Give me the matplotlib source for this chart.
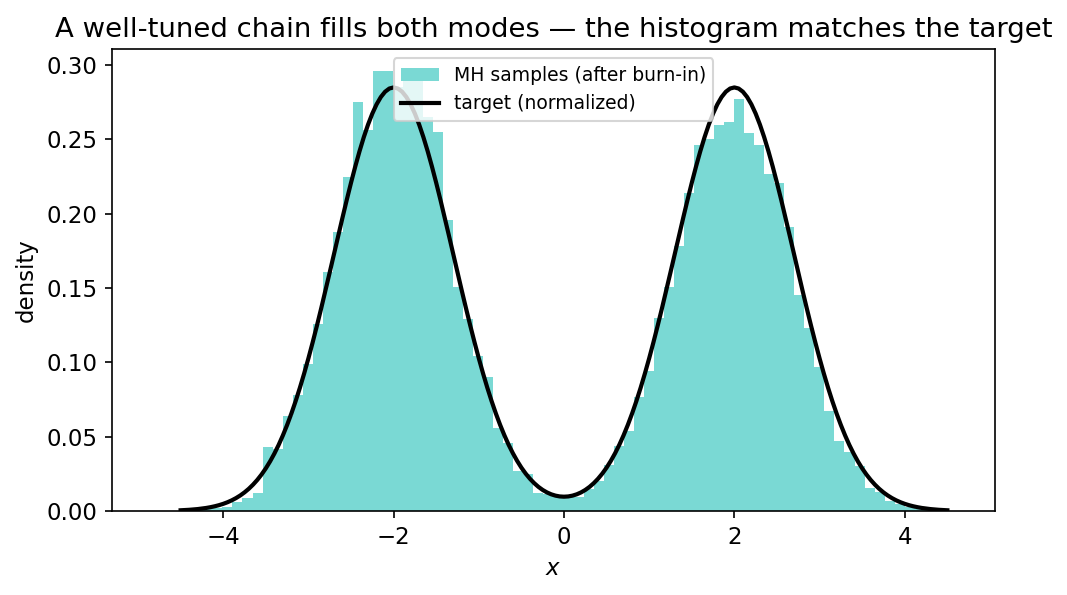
import numpy as np
import matplotlib
matplotlib.use("Agg")
import matplotlib.pyplot as plt

plt.rcParams["font.size"] = 11

# histogram of MH samples: 80 bins between the sample min and max
x_min, x_max, n_bins = -4.834, 4.588, 80
density = [0.0002, 0.0, 0.0003, 0.0005, 0.0009, 0.0014, 0.0022,
           0.003, 0.006, 0.009, 0.012, 0.043, 0.042, 0.064, 0.078, 0.099, 0.126,
           0.161, 0.188, 0.225, 0.275, 0.256, 0.296, 0.296, 0.285, 0.290, 0.294,
           0.265, 0.255, 0.196, 0.151, 0.129, 0.104, 0.090, 0.056, 0.046, 0.027,
           0.025, 0.012, 0.0115, 0.0105, 0.011, 0.0095, 0.015, 0.020, 0.031, 0.044,
           0.054, 0.077, 0.094, 0.130, 0.151, 0.178, 0.214, 0.246, 0.250, 0.260,
           0.262, 0.277, 0.254, 0.246, 0.227, 0.221, 0.191, 0.145, 0.123, 0.097,
           0.067, 0.047, 0.040, 0.030, 0.0156, 0.013, 0.007, 0.005, 0.0026, 0.001,
           0.0006, 0.0003, 0.0002]

# target density read at x = -4.5 ... 0, step 0.05 (curve is symmetric about 0)
target_half = [0.00048, 0.00062, 0.00080, 0.00102, 0.00129, 0.00163, 0.00204,
               0.00255, 0.00317, 0.00391, 0.00481, 0.00588, 0.00716, 0.00867,
               0.01045, 0.01252, 0.01493, 0.01772, 0.02091, 0.02455, 0.02868,
               0.03335, 0.03857, 0.04437, 0.05081, 0.05786, 0.06556, 0.07391,
               0.08290, 0.09251, 0.10271, 0.11347, 0.12469, 0.13633, 0.14831,
               0.16051, 0.17284, 0.18517, 0.19735, 0.20928, 0.22079, 0.23176,
               0.24203, 0.25148, 0.25996, 0.26735, 0.27356, 0.27849, 0.28207,
               0.28423, 0.28496, 0.28423, 0.28207, 0.27849, 0.27356, 0.26735,
               0.25996, 0.25148, 0.24203, 0.23176, 0.22079, 0.20928, 0.19735,
               0.18517, 0.17284, 0.16051, 0.14832, 0.13634, 0.12471, 0.11349,
               0.10274, 0.09255, 0.08295, 0.07398, 0.06566, 0.05799, 0.05098,
               0.04459, 0.03886, 0.03372, 0.02916, 0.02517, 0.02171, 0.01874,
               0.01622, 0.01415, 0.01249, 0.01122, 0.01033, 0.00979, 0.00962]
target_x = [round(-4.5 + 0.05 * i, 2) for i in range(181)]
target_y = target_half + target_half[-2::-1]

bin_edges = np.linspace(x_min, x_max, n_bins + 1)
centers = 0.5 * (bin_edges[:-1] + bin_edges[1:])

fig, ax = plt.subplots(figsize=(1067 / 150, 595 / 150), dpi=150)
fig.subplots_adjust(left=0.105, right=0.9325, top=0.9176, bottom=0.1412)

ax.hist(centers, bins=bin_edges, weights=density, color="#7ad9d4",
        label="MH samples (after burn-in)")
ax.plot(target_x, target_y, color="black", lw=2, label="target (normalized)")

ax.set_title("A well-tuned chain fills both modes \u2014 the histogram matches the target")
ax.set_xlabel("$x$")
ax.set_ylabel("density")
ax.legend(loc="upper center", fontsize=9)

fig.savefig("out.png", dpi=150)
